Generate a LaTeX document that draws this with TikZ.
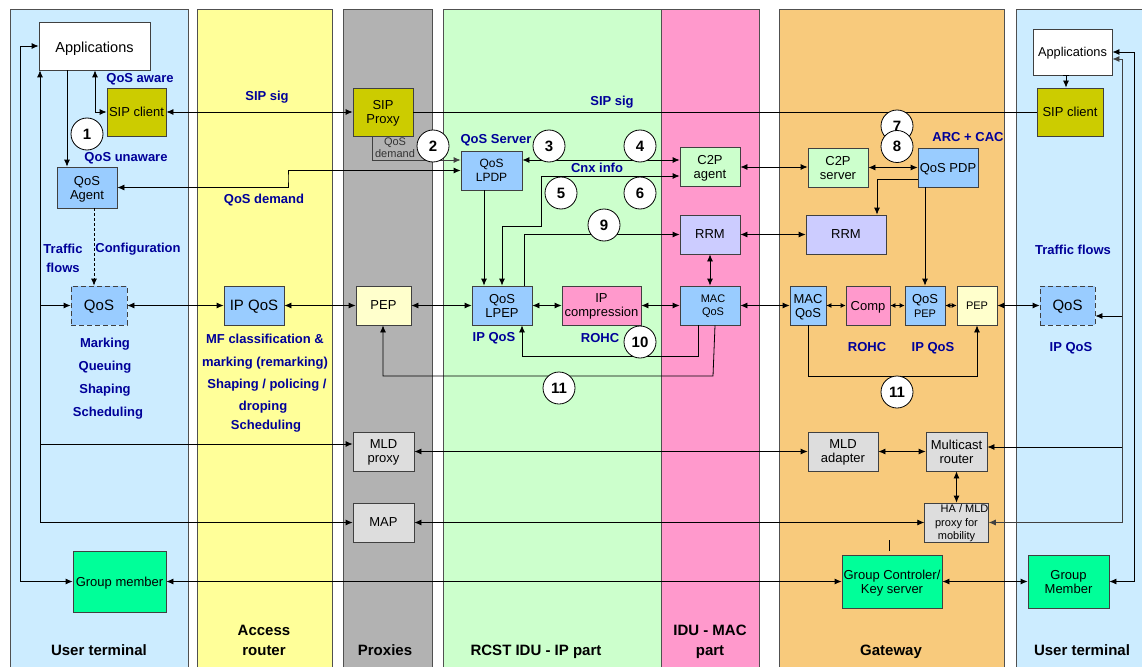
\documentclass[tikz,border=0pt]{standalone}
\usepackage{fontspec}
\setmainfont{Liberation Sans}
\usetikzlibrary{arrows.meta}
\newcommand\myfs[2]{\fontsize{#1}{#2}\selectfont}
\definecolor{utblue}{RGB}{204,236,255}
\definecolor{aryellow}{RGB}{255,255,153}
\definecolor{pxgray}{RGB}{178,178,178}
\definecolor{ipgreen}{RGB}{204,255,204}
\definecolor{macpink}{RGB}{255,153,204}
\definecolor{gworange}{RGB}{248,202,124}
\definecolor{lblue}{RGB}{153,204,255}
\definecolor{sipol}{RGB}{204,204,0}
\definecolor{lyellow}{RGB}{255,255,204}
\definecolor{lgray}{RGB}{221,221,221}
\definecolor{sgreen}{RGB}{0,255,153}
\definecolor{lgreen}{RGB}{204,255,204}
\definecolor{lav}{RGB}{204,204,255}
\definecolor{navy}{RGB}{0,0,153}
\definecolor{edge}{RGB}{64,64,64}
\definecolor{laneedge}{RGB}{80,80,80}
\definecolor{darktext}{RGB}{51,51,51}
\begin{document}
\begin{tikzpicture}[x=1pt,y=-1pt,line width=0.8pt,>={Latex[length=7pt,width=6pt]},
 lane/.style={draw=laneedge,line width=1pt},
 box/.style={draw=edge,line width=0.8pt,inner sep=0pt,align=center,font=\myfs{13}{14},text=black,text depth=0pt},
 lbl/.style={font=\bfseries\myfs{13}{15},text=navy,inner sep=0pt,align=center,text depth=0pt},
 ttl/.style={font=\bfseries\myfs{15}{20},inner sep=0pt,align=center,text=black,text depth=0pt},
 num/.style={circle,draw=black,fill=white,minimum size=32pt,inner sep=0pt,font=\bfseries\myfs{15}{15},text depth=0pt},
 sm/.style={{Latex[length=5pt,width=5pt]}-{Latex[length=5pt,width=5pt]}}
]
\useasboundingbox (0,0) rectangle (1142,666);
\fill[white] (0,0) rectangle (1142,666);
% lanes
\filldraw[lane,fill=utblue] (10,10) rectangle (188,672);
\filldraw[lane,fill=aryellow] (197,10) rectangle (332,672);
\filldraw[lane,fill=pxgray] (343,10) rectangle (432,672);
\filldraw[lane,fill=ipgreen] (443,10) rectangle (661,672);
\filldraw[lane,fill=macpink] (661,10) rectangle (759,672);
\filldraw[lane,fill=gworange] (779,10) rectangle (1004,672);
\filldraw[lane,fill=utblue] (1016,10) rectangle (1146,672);

% boxes
\node[box,fill=white,minimum width=111pt,minimum height=48pt,font=\myfs{14.5}{16}] (appL) at (94.5,46) {\raisebox{-2pt}{Applications}};
\node[box,fill=sipol,minimum width=59pt,minimum height=48pt] (sipL) at (136.5,112) {SIP client};
\node[box,fill=lblue,minimum width=60pt,minimum height=41pt] (agent) at (87,187.5) {QoS\\Agent};
\node[box,fill=lblue,dash pattern=on 5pt off 3pt,minimum width=56pt,minimum height=39pt,font=\myfs{15}{16}] (qosL) at (99,305.5) {QoS};
\node[box,fill=sgreen,minimum width=93pt,minimum height=61pt] (gmL) at (119.5,581.5) {Group member};
\node[box,fill=lblue,minimum width=60pt,minimum height=39pt,font=\myfs{15}{16}] (ipqos) at (254,305.5) {IP QoS};
\node[box,fill=sipol,minimum width=60pt,minimum height=48pt] (sipP) at (383,112) {SIP\\Proxy};
\node[box,fill=lyellow,minimum width=55pt,minimum height=39pt] (pepP) at (383.5,305.5) {PEP};
\node[box,fill=lgray,minimum width=61pt,minimum height=39pt] (mldP) at (383.5,451.5) {MLD\\proxy};
\node[box,fill=lgray,minimum width=61pt,minimum height=39pt] (map) at (383.5,522.5) {MAP};
\node[box,fill=lblue,minimum width=61pt,minimum height=39pt,font=\myfs{12}{14}] (lpdp) at (491.5,170.5) {QoS\\LPDP};
\node[box,fill=lblue,minimum width=60pt,minimum height=39pt] (lpep) at (502,305.5) {QoS\\LPEP};
\node[box,fill=macpink,minimum width=79pt,minimum height=39pt] (ipcomp) at (601.5,305.5) {IP\\compression};
\node[box,fill=lgreen,minimum width=60pt,minimum height=39pt] (c2pa) at (710,166.5) {C2P\\agent};
\node[box,fill=lav,minimum width=60pt,minimum height=39pt] (rrmL) at (710,234.5) {RRM};
\node[box,fill=lblue,minimum width=60pt,minimum height=39pt,font=\myfs{11}{13}] (macL) at (710,305.5) {\hspace*{6pt}MAC\\\hspace*{6pt}QoS};
\node[box,fill=lgreen,minimum width=60pt,minimum height=39pt] (c2ps) at (838,167.5) {C2P\\server};
\node[box,fill=lblue,minimum width=60pt,minimum height=39pt] (pdp) at (948,167.5) {QoS PDP};
\node[box,fill=lav,minimum width=80pt,minimum height=39pt] (rrmR) at (846,234.5) {RRM};
\node[box,fill=lblue,minimum width=36pt,minimum height=39pt] (macR) at (808,305.5) {MAC\\QoS};
\node[box,fill=macpink,minimum width=44pt,minimum height=39pt] (comp) at (868,305.5) {Comp};
\node[box,fill=lblue,minimum width=40pt,minimum height=39pt] (pepq) at (925,305.5) {QoS\\{\myfs{11}{12}PEP}};
\node[box,fill=lyellow,minimum width=40pt,minimum height=39pt,font=\myfs{11}{12}] (pepR) at (977,305.5) {PEP};
\node[box,fill=lgray,minimum width=70pt,minimum height=39pt] (mlda) at (843,451.5) {MLD\\adapter};
\node[box,fill=lgray,minimum width=61pt,minimum height=39pt] (mcast) at (956.5,451.5) {Multicast\\router};
\node[box,fill=lgray,minimum width=61pt,minimum height=39pt,font=\myfs{11}{13.5}] (ha) at (956.5,522.5) {\hspace*{16pt}HA / MLD\\proxy for\\mobility};
\node[box,fill=sgreen,minimum width=100pt,minimum height=53pt] (gc) at (892,581.5) {Group Controler/\\Key server};
\node[box,fill=white,minimum width=79pt,minimum height=46pt,font=\myfs{12.8}{14}] (appR) at (1072.5,52) {Applications};
\node[box,fill=sipol,minimum width=66pt,minimum height=48pt] (sipR) at (1070,112) {SIP client};
\node[box,fill=lblue,dash pattern=on 5pt off 3pt,minimum width=55pt,minimum height=39pt,font=\myfs{15}{16}] (qosR) at (1067.5,305.5) {QoS};
\node[box,fill=sgreen,minimum width=81pt,minimum height=53pt] (gmR) at (1068.5,581.5) {Group\\Member};

% connectors
\draw[<->] (appL.west) -| (20,581.5) -- (gmL.west);
\draw[<->] (appL.south -| 40,0) |- (map.west);
\draw[->] (40,305.5) -- (qosL.west);
\draw[->] (40,444) -- (mldP.west |- 0,444);
\draw[->] (appL.south -| 67,0) -- (agent.north -| 67,0);
\draw[<->] (appL.south -| 95,0) |- (sipL.west);
\draw[->,dash pattern=on 3pt off 2pt] (agent.south -| 94,0) -- (qosL.north -| 94,0);
\draw[<->] (sipL.east) -- (sipP.west);
\draw (sipP.east) -- (sipR.west);
\draw[<->] (agent.east) -| (288,178) |- (lpdp.west);
\draw[->,draw=edge] (sipP.south -| 372,0) |- (lpdp.west |- 0,160);
\draw[<->] (lpdp.east |- 0,160) -- (c2pa.west |- 0,160);
\draw[<->] (c2pa.west |- 0,176) -| (541,226) -| (lpep.north -| 502,0);
\draw[->] (lpdp.south -| 484,0) -- (lpep.north -| 484,0);
\draw[->] (lpep.north -| 524,0) |- (rrmL.west);
\draw[<->] (qosL.east) -- (ipqos.west);
\draw[<->] (ipqos.east) -- (pepP.west);
\draw[<->] (pepP.east) -- (lpep.west);
\draw[<->] (lpep.east) -- (ipcomp.west);
\draw[<->] (ipcomp.east) -- (macL.west);
\draw[<->] (macL.east) -- (macR.west);
\draw[sm] (macR.east) -- (comp.west);
\draw[sm] (comp.east) -- (pepq.west);
\draw[sm] (pepq.east) -- (pepR.west);
\draw[<->] (pepR.east) -- (qosR.west);
\draw[<->] (rrmL.south) -- (macL.north);
\draw[->] (macL.south -| 698,0) |- (522,356) -- (lpep.south -| 522,0);
\draw[->] (macL.south -| 715,0) -- (713,376) -| (pepP.south -| 383,0);
\draw[<->] (c2pa.east |- 0,167) -- (c2ps.west |- 0,167);
\draw[<->] (c2ps.east) -- (pdp.west);
\draw[->] (pdp.west |- 0,179) -| (rrmR.north -| 877,0);
\draw[<->] (rrmL.east) -- (rrmR.west);
\draw[->] (pdp.south -| pepq.north) -- (pepq.north);
\draw[->] (macR.south) |- (977,376) -- (pepR.south);
\draw[<->] (mldP.east) -- (mlda.west);
\draw[<->] (mlda.east) -- (mcast.west);
\draw[<->] (mcast.south) -- (ha.north);
\draw[<->] (map.east) -- (ha.west);
\draw[<->] (gmL.east) -- (gc.west);
\draw[<->] (gc.east) -- (gmR.west);
\draw[<->] (appR.east) -| (1134,581.5) -- (gmR.east);
\draw[<->,draw=edge] (appR.east |- 0,59) -| (1122,522.5) -- (ha.east);
\draw[->] (1122,316) -- (qosR.east |- 0,316);
\draw[->] (1122,447) -- (mcast.east |- 0,447);
\draw[{Bar[width=6pt]}->] (appR.south -| 1066,0) -- (sipR.north -| 1066,0);
\draw (889,540) -- (889,551);

% numbered circles
\node[num] (n1) at (87,134) {1};
\node[num] (n2) at (433,146) {2};
\node[num] (n3) at (549,146) {3};
\node[num] (n4) at (640,146) {4};
\node[num] (n5) at (561,193) {5};
\node[num] (n6) at (640,193) {6};
\node[num] (n9) at (604,225) {9};
\node[num] (n10) at (640,342) {10};
\node[num] (n11a) at (559,388) {11};
\node[num] (n7) at (897,126) {7};
\node[num] (n8) at (897,146.5) {8};
\node[num] (n11b) at (897,392) {11};

% labels
\node[lbl] (lqa) at (140,78) {QoS aware};
\node[lbl] (lqu) at (126,157) {QoS unaware};
\node[lbl] (lsip1) at (267,96) {SIP sig};
\node[lbl] (lqd) at (264,199) {QoS demand};
\node[lbl] (lconf) at (138,248) {Configuration};
\node[lbl,font=\bfseries\myfs{13}{19}] (ltf) at (63,258.5) {Traffic\\flows};
\node[lbl] (lmk) at (105,343) {Marking};
\node[lbl] (lqn) at (105,366) {Queuing};
\node[lbl] (lsh) at (105,389) {Shaping};
\node[lbl] (lsc) at (108,412) {Scheduling};
\node[lbl] (lmf1) at (265,339) {MF classification \&};
\node[lbl] (lmf2) at (265,362) {marking (remarking)};
\node[lbl] (lmf3) at (267,384) {Shaping / policing /};
\node[lbl] (lmf4) at (263,406) {droping};
\node[lbl] (lmf5) at (266,425) {Scheduling};
\node[lbl] (lsip2) at (612,101) {SIP sig};
\node[lbl] (lqs) at (496,139) {QoS Server};
\node[lbl] (lcnx) at (597,168) {Cnx info};
\node[lbl] (liq1) at (494,337) {IP QoS};
\node[lbl] (lro1) at (600,338) {ROHC};
\node[lbl] (larc) at (968,137) {ARC + CAC};
\node[lbl] (lro2) at (867,347) {ROHC};
\node[lbl] (liq2) at (933,347) {IP QoS};
\node[lbl] (ltf2) at (1073,250) {Traffic flows};
\node[lbl] (liq3) at (1071,347) {IP QoS};
\node[font=\myfs{11}{12},text=darktext,align=center,inner sep=0pt,text depth=0pt] (lqd2) at (395,148) {QoS\\demand};

% lane titles
\node[ttl] (t1) at (99,650) {User terminal};
\node[ttl] (t2) at (264,640) {Access\\router};
\node[ttl] (t3) at (385,650) {Proxies};
\node[ttl] (t4) at (536,650) {RCST IDU - IP part};
\node[ttl] (t5) at (710,640) {IDU - MAC\\part};
\node[ttl] (t6) at (891,650) {Gateway};
\node[ttl] (t7) at (1082,650) {User terminal};
\end{tikzpicture}
\end{document}
